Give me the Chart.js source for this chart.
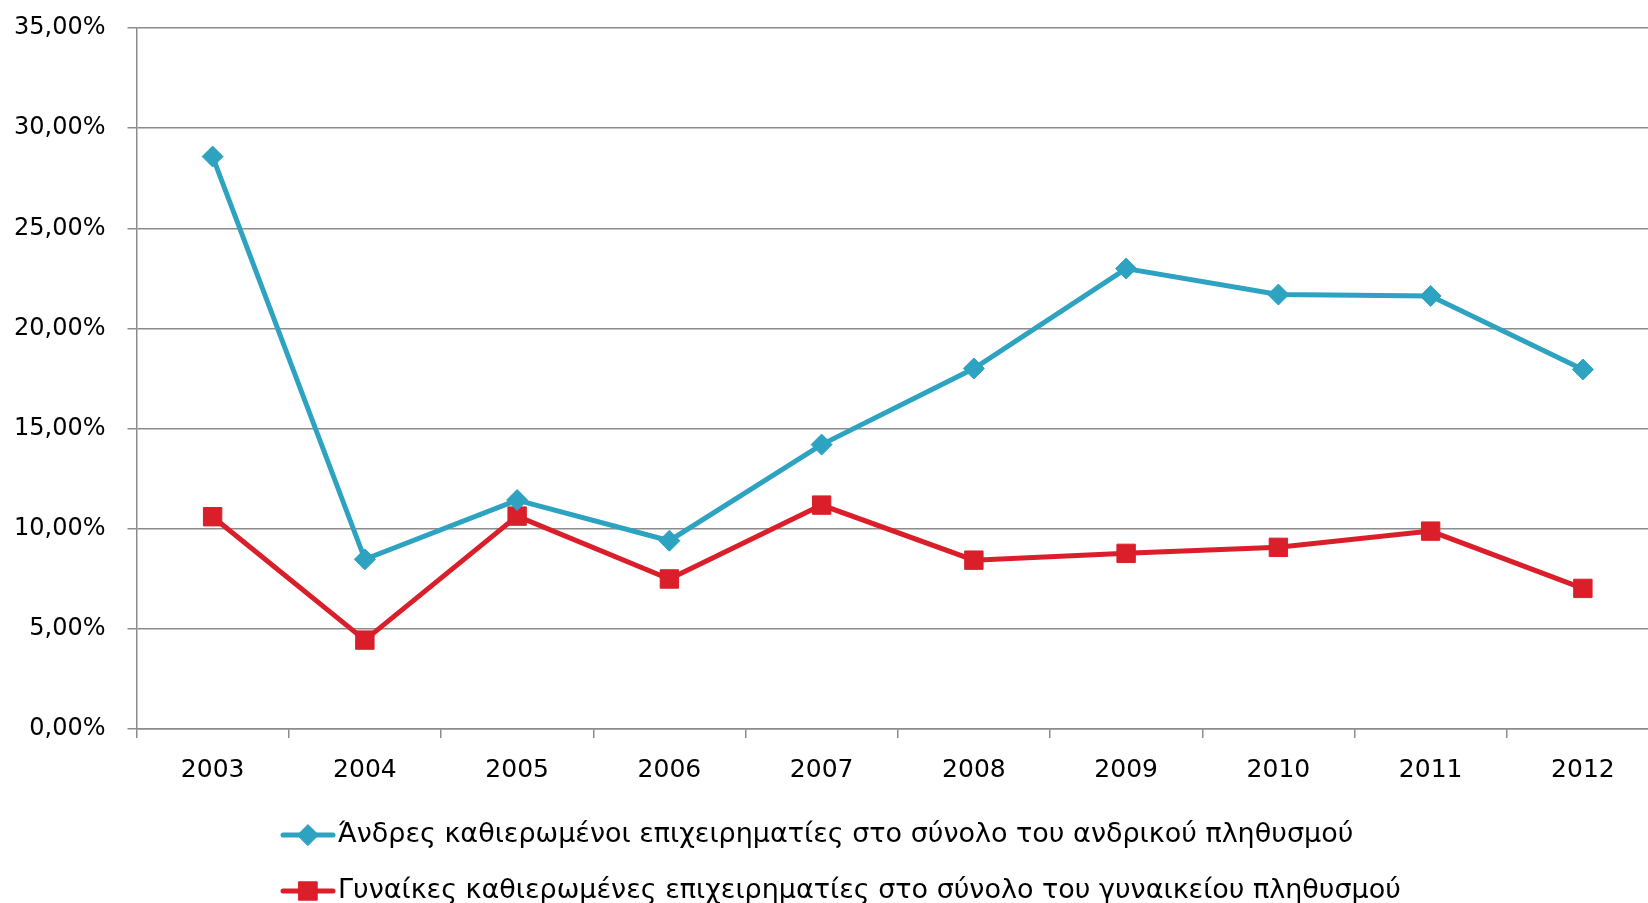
<!DOCTYPE html>
<html lang="el">
<head>
<meta charset="UTF-8">
<title>Καθιερωμένοι επιχειρηματίες</title>
<script src="https://cdn.jsdelivr.net/npm/chart.js"></script>
<style>
  html, body { margin: 0; padding: 0; background: #fff; overflow: hidden; }
  #wrap { position: absolute; left: 0; top: 0; width: 1673px; height: 903px; }
</style>
</head>
<body>
<div id="wrap"><canvas id="chart" width="1673" height="903"></canvas></div>
<script>
const years = ['2003', '2004', '2005', '2006', '2007', '2008', '2009', '2010', '2011', '2012'];
const men = [28.58, 8.47, 11.43, 9.40, 14.20, 18.00, 22.99, 21.69, 21.62, 17.95];
const women = [10.60, 4.44, 10.63, 7.49, 11.18, 8.43, 8.77, 9.07, 9.88, 7.02];
const menLabel = 'Άνδρες καθιερωμένοι επιχειρηματίες στο σύνολο του ανδρικού πληθυσμού';
const womenLabel = 'Γυναίκες καθιερωμένες επιχειρηματίες στο σύνολο του γυναικείου πληθυσμού';

const FONT = '"DejaVu Sans", sans-serif';
const GRID = '#8c8c8c';

// legend drawn underneath, one row per series, left aligned
const legendRows = {
  id: 'legendRows',
  afterDraw(chart) {
    const ctx = chart.ctx;
    const rows = [835, 891];
    ctx.save();
    chart.data.datasets.forEach((ds, i) => {
      const y = rows[i];
      ctx.strokeStyle = ds.borderColor;
      ctx.lineWidth = 5;
      ctx.lineCap = 'round';
      ctx.beginPath();
      ctx.moveTo(283, y);
      ctx.lineTo(333, y);
      ctx.stroke();
      ctx.fillStyle = ds.backgroundColor;
      ctx.strokeStyle = ds.borderColor;
      ctx.lineWidth = 1;
      Chart.helpers.drawPoint(ctx, { pointStyle: ds.pointStyle, radius: ds.pointRadius, borderWidth: 1 }, 308, y);
      ctx.fillStyle = '#000';
      ctx.font = '27px ' + FONT;
      ctx.textBaseline = 'middle';
      ctx.textAlign = 'left';
      ctx.fillText(ds.label, 338, y);
    });
    ctx.restore();
  }
};

new Chart(document.getElementById('chart'), {
  type: 'line',
  data: {
    labels: years,
    datasets: [
      {
        label: menLabel,
        data: men,
        borderColor: '#2ea3c1',
        backgroundColor: '#2ea3c1',
        borderWidth: 5,
        pointStyle: 'rectRot',
        pointRadius: 10.5,
        pointBorderWidth: 1,
        tension: 0
      },
      {
        label: womenLabel,
        data: women,
        borderColor: '#da1f2a',
        backgroundColor: '#da1f2a',
        borderWidth: 5,
        pointStyle: 'rect',
        pointRadius: 13,
        pointBorderWidth: 1,
        tension: 0
      }
    ]
  },
  options: {
    responsive: false,
    animation: false,
    layout: { padding: { top: 28, right: 2, left: 0, bottom: 0 } },
    plugins: { legend: { display: false }, tooltip: { enabled: false } },
    scales: {
      x: {
        offset: true,
        grid: { offset: true, drawOnChartArea: false, color: GRID, lineWidth: 1.5, tickLength: 9 },
        border: { color: GRID, width: 1.5 },
        ticks: { color: '#000', font: { family: FONT, size: 25 }, padding: 17, maxRotation: 0 },
        afterFit(scale) { scale.height = 174; }
      },
      y: {
        min: 0,
        max: 35,
        ticks: {
          stepSize: 5,
          color: '#000',
          padding: 22,
          font: { family: FONT, size: 24 },
          callback: v => v.toFixed(2).replace('.', ',') + '%'
        },
        grid: { color: GRID, lineWidth: 1.5, tickLength: 9 },
        border: { color: GRID, width: 1.5 },
        afterFit(scale) {
          scale.width = 136.5;
          scale.paddingTop = 0;
          scale.paddingBottom = 0;
        }
      }
    }
  },
  plugins: [legendRows]
});
</script>
</body>
</html>
